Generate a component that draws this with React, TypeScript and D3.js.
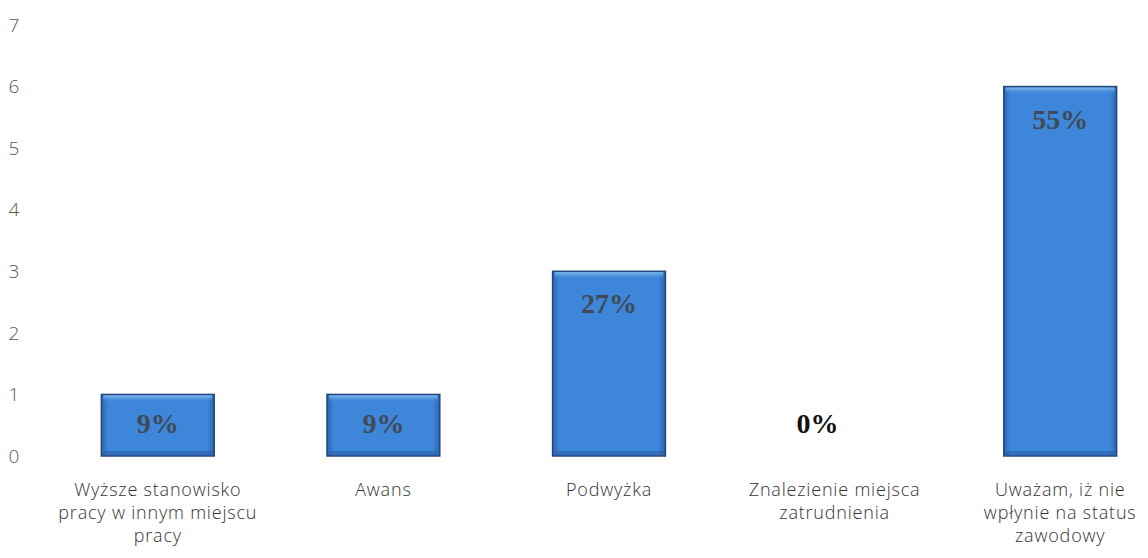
import React from 'react';
import * as d3 from 'd3';

const categories = [
  ['Wyższe stanowisko', 'pracy w innym miejscu', 'pracy'],
  ['Awans'],
  ['Podwyżka'],
  ['Znalezienie miejsca', 'zatrudnienia'],
  ['Uważam, iż nie', 'wpłynie na status', 'zawodowy'],
];
const counts = [1, 1, 3, 0, 6];
const percentLabels = ['9%', '9%', '27%', '0%', '55%'];
const yTicks = [0, 1, 2, 3, 4, 5, 6, 7];

const width = 1148;
const height = 558;

const App: React.FC = () => {
  const x = d3
    .scaleBand<number>()
    .domain(d3.range(counts.length))
    .range([45, 1173])
    .paddingInner(0.5)
    .paddingOuter(0.25);

  const y = d3.scaleLinear().domain([0, 7]).range([456, 25]);

  return (
    <svg width={width} height={height} style={{ position: 'absolute', left: 0, top: 0 }}>
      <defs>
        <linearGradient id="barFill" x1="0" x2="1" y1="0" y2="0">
          <stop offset="0%" stopColor="#2c64b0" />
          <stop offset="6%" stopColor="#3d86da" />
          <stop offset="94%" stopColor="#3d86da" />
          <stop offset="100%" stopColor="#2c64b0" />
        </linearGradient>
        <linearGradient id="barTop" x1="0" x2="0" y1="0" y2="1">
          <stop offset="0%" stopColor="#8fc0f0" stopOpacity={0.9} />
          <stop offset="100%" stopColor="#3d86da" stopOpacity={0} />
        </linearGradient>
      </defs>

      {/* y axis labels */}
      {yTicks.map((t) => (
        <text
          key={t}
          x={14}
          y={y(t)}
          dy="0.35em"
          textAnchor="middle"
          fontFamily="'Open Sans', sans-serif"
          fontWeight={300}
          fontSize={19}
          fill="#595959"
        >
          {t}
        </text>
      ))}

      {/* bars */}
      {counts.map((v, i) => {
        const bx = x(i)!;
        const bw = x.bandwidth();
        const top = y(v);
        const h = y(0) - top;
        if (h <= 0) return null;
        return (
          <g key={i}>
            <rect x={bx} y={top} width={bw} height={h} fill="url(#barFill)" stroke="#23457a" strokeWidth={1.5} />
            <rect x={bx + 2} y={top + 1} width={bw - 4} height={7} fill="url(#barTop)" />
            <rect x={bx + 2} y={y(0) - 5} width={bw - 4} height={4} fill="#2a5fa8" opacity={0.6} />
          </g>
        );
      })}

      {/* value labels */}
      {counts.map((v, i) => {
        const cx = x(i)! + x.bandwidth() / 2;
        const inside = v > 0;
        const ly = inside ? y(v) + Math.min(42, (y(0) - y(v)) / 2 + 8) : y(0) - 23;
        return (
          <text
            key={i}
            x={inside ? cx : cx - 17}
            y={ly}
            textAnchor="middle"
            fontFamily="'Liberation Serif', 'Times New Roman', serif"
            fontWeight="bold"
            fontSize={28}
            fill={inside ? '#3f4a56' : '#111'}
          >
            {percentLabels[i]}
          </text>
        );
      })}

      {/* category labels */}
      {categories.map((lines, i) => {
        const cx = x(i)! + x.bandwidth() / 2;
        return (
          <text
            key={i}
            textAnchor="middle"
            fontFamily="'Open Sans', sans-serif"
            fontWeight={300}
            fontSize={18}
            letterSpacing={0.8}
            fill="#333"
          >
            {lines.map((l, j) => (
              <tspan key={j} x={cx} y={496 + j * 23}>
                {l}
              </tspan>
            ))}
          </text>
        );
      })}
    </svg>
  );
};

export default App;
